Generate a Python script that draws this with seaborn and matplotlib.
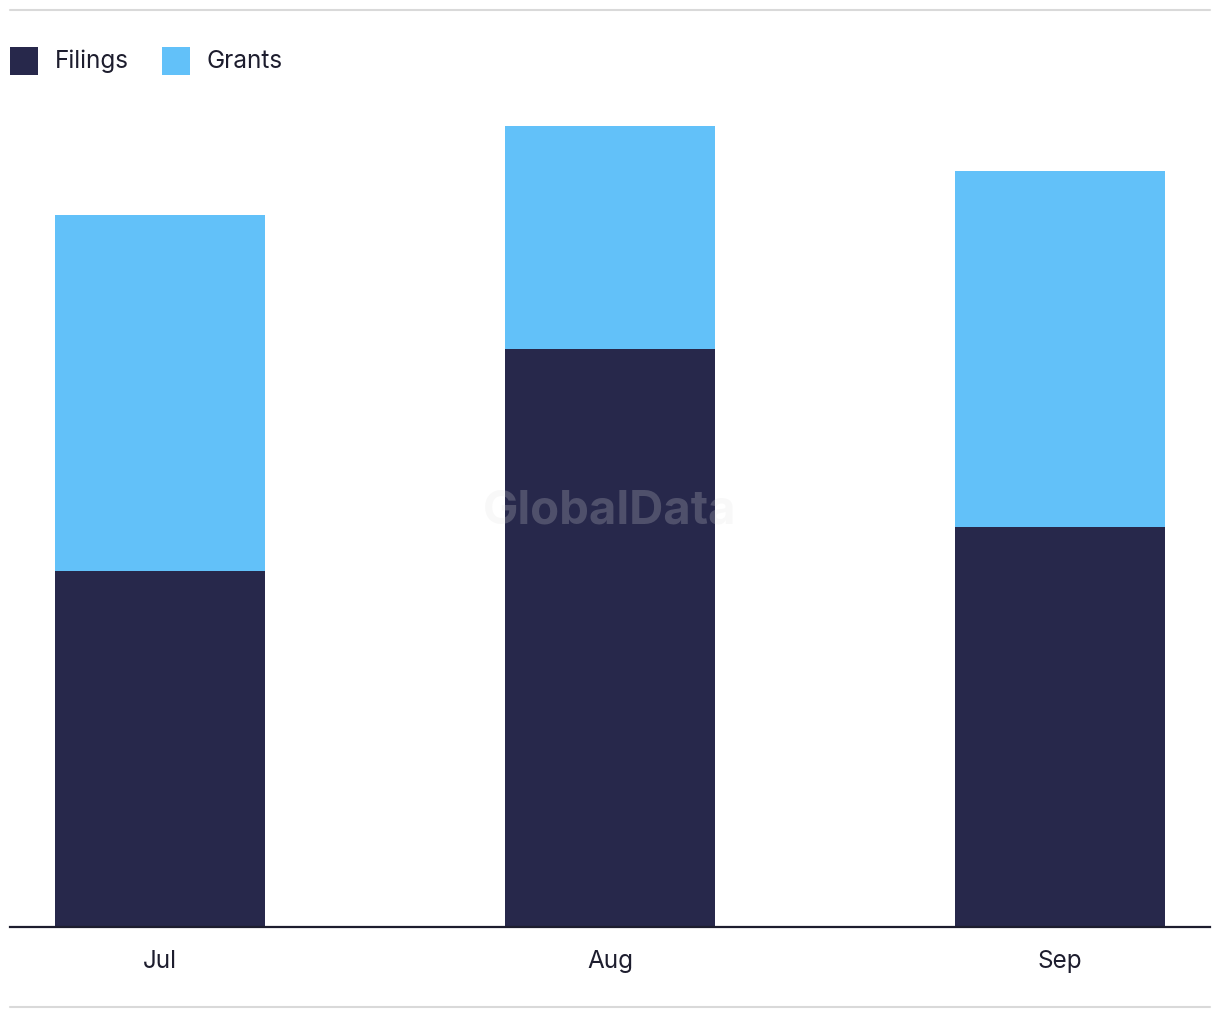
import matplotlib
matplotlib.use("Agg")
import matplotlib.pyplot as plt
import seaborn as sns
import pandas as pd
from matplotlib.patches import Rectangle
from matplotlib.lines import Line2D

months = ["Jul", "Aug", "Sep"]
filings = [16, 26, 18]
grants = [16, 10, 16]

NAVY = "#27284B"
BLUE = "#62C1F9"
TEXT = "#1d1d2e"

sns.set_theme(style="white")
plt.rcParams["font.family"] = ["Inter", "DejaVu Sans"]

df = pd.DataFrame({"month": months, "filings": filings, "grants": grants})
df["total"] = df["filings"] + df["grants"]

W, H = 1220, 1020
fig = plt.figure(figsize=(W / 100, H / 100), dpi=100)
ax = fig.add_axes([10 / W, 1 - 928 / H, 1200 / W, 828 / H])

sns.barplot(data=df, x="month", y="total", color=BLUE, width=0.467,
            saturation=1, ax=ax, zorder=2, linewidth=0, edgecolor="none")
sns.barplot(data=df, x="month", y="filings", color=NAVY, width=0.467,
            saturation=1, ax=ax, zorder=3, linewidth=0, edgecolor="none")

ax.set_xlim(-1 / 3, 2 + 1 / 3)
ax.set_ylim(0, 828 / 22.25)
ax.set_xlabel("")
ax.set_ylabel("")
ax.set_yticks([])
for s in ["top", "right", "left"]:
    ax.spines[s].set_visible(False)
ax.spines["bottom"].set_color(TEXT)
ax.spines["bottom"].set_linewidth(1.6)
ax.spines["bottom"].set_zorder(5)
ax.tick_params(axis="x", length=0, pad=15.5, labelsize=17.5, labelcolor=TEXT)

# watermark
fig.text(610 / W, 1 - 512 / H, "GlobalData", ha="center", va="center",
         fontsize=34, fontweight="bold", color="#e0e0e0", alpha=0.22,
         zorder=10)

# top / bottom rules
fig.add_artist(Line2D([10 / W, 1210 / W], [1 - 11 / H, 1 - 11 / H],
                      color="#d9d9d9", linewidth=1.5, transform=fig.transFigure))
fig.add_artist(Line2D([10 / W, 1210 / W], [1 - 1008 / H, 1 - 1008 / H],
                      color="#d9d9d9", linewidth=1.5, transform=fig.transFigure))

# legend
for x0, col, lab, tx in [(10, NAVY, "Filings", 55), (162, BLUE, "Grants", 207)]:
    fig.add_artist(Rectangle((x0 / W, 1 - 76 / H), 28 / W, 28 / H,
                             facecolor=col, edgecolor="none",
                             transform=fig.transFigure))
    fig.text(tx / W, 1 - 61 / H, lab, ha="left", va="center", fontsize=17.5,
             color=TEXT)

fig.savefig("out.png", dpi=100, facecolor="white")
